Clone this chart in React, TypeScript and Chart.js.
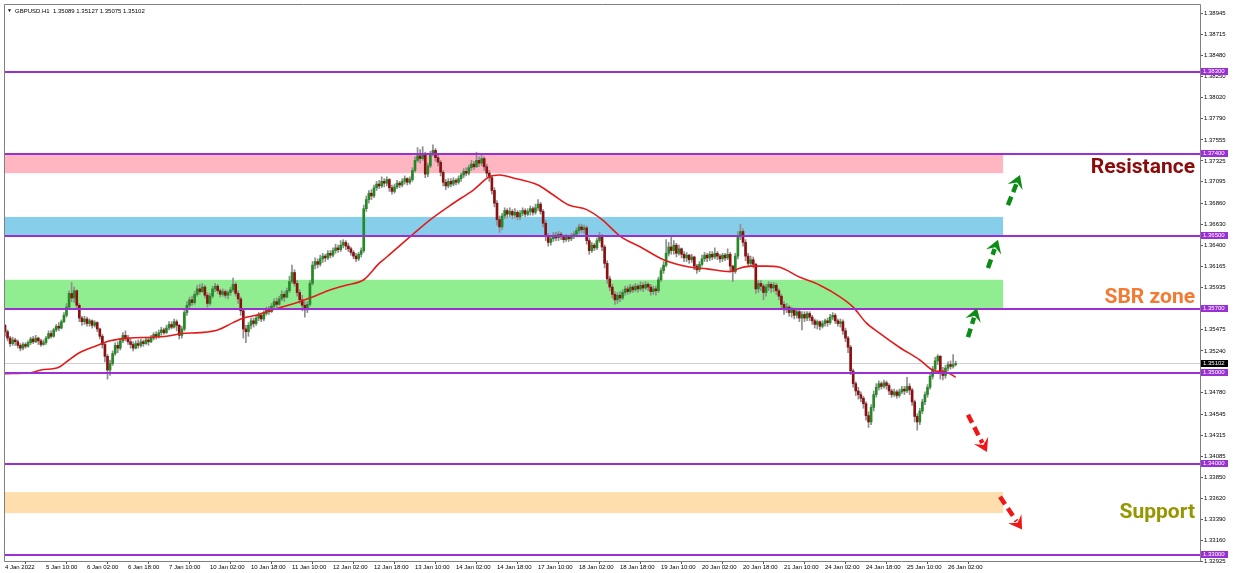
import React, { useEffect, useRef } from "react";
import { Chart, registerables } from "chart.js";

Chart.register(...registerables);

// ---------------- DATA ----------------
const chartTitle = "GBPUSD.H1  1.35089 1.35127 1.35075 1.35102";

const timeLabels = [
  "4 Jan 2022", "5 Jan 10:00", "6 Jan 02:00", "6 Jan 18:00", "7 Jan 10:00", "10 Jan 02:00",
  "10 Jan 18:00", "11 Jan 10:00", "12 Jan 02:00", "12 Jan 18:00", "13 Jan 10:00", "14 Jan 02:00",
  "14 Jan 18:00", "17 Jan 10:00", "18 Jan 02:00", "18 Jan 18:00", "19 Jan 10:00", "20 Jan 02:00",
  "20 Jan 18:00", "21 Jan 10:00", "24 Jan 02:00", "24 Jan 18:00", "25 Jan 10:00", "26 Jan 02:00",
];
const barsPerTimeLabel = 16;

const firstOpen = 1.3552;

const closes = [
  1.3545,1.3538,1.3532,1.3536,1.3534,1.3530,1.3527,1.3531,1.3529,1.3533,
  1.3537,1.3534,1.3538,1.3535,1.3531,1.3533,1.3538,1.3543,1.3540,1.3547,
  1.3551,1.3549,1.3556,1.3563,1.3572,1.3587,1.3582,1.3590,1.3574,1.3560,
  1.3556,1.3559,1.3554,1.3557,1.3552,1.3555,1.3548,1.3540,1.3531,1.3518,
  1.3503,1.3510,1.3521,1.3530,1.3527,1.3535,1.3541,1.3538,1.3534,1.3531,
  1.3527,1.3532,1.3530,1.3534,1.3532,1.3536,1.3534,1.3538,1.3542,1.3540,
  1.3544,1.3547,1.3544,1.3549,1.3553,1.3550,1.3556,1.3552,1.3541,1.3548,
  1.3566,1.3574,1.3580,1.3577,1.3586,1.3592,1.3589,1.3594,1.3585,1.3576,
  1.3584,1.3592,1.3595,1.3590,1.3586,1.3589,1.3585,1.3588,1.3591,1.3597,
  1.3587,1.3581,1.3568,1.3548,1.3545,1.3552,1.3557,1.3554,1.3560,1.3563,
  1.3559,1.3565,1.3570,1.3567,1.3573,1.3578,1.3575,1.3581,1.3586,1.3583,
  1.3590,1.3600,1.3610,1.3598,1.3588,1.3580,1.3574,1.3569,1.3575,1.3598,
  1.3618,1.3622,1.3619,1.3625,1.3628,1.3626,1.3631,1.3629,1.3634,1.3637,
  1.3635,1.3640,1.3643,1.3639,1.3636,1.3632,1.3628,1.3625,1.3630,1.3634,
  1.3680,1.3690,1.3697,1.3694,1.3703,1.3707,1.3705,1.3710,1.3708,1.3712,
  1.3703,1.3699,1.3704,1.3708,1.3706,1.3710,1.3713,1.3709,1.3712,1.3722,
  1.3733,1.3738,1.3735,1.3740,1.3718,1.3727,1.3740,1.3744,1.3736,1.3731,
  1.3720,1.3709,1.3705,1.3710,1.3707,1.3711,1.3709,1.3713,1.3717,1.3721,
  1.3719,1.3725,1.3729,1.3726,1.3733,1.3730,1.3735,1.3726,1.3719,1.3714,
  1.3700,1.3686,1.3668,1.3660,1.3672,1.3678,1.3674,1.3677,1.3673,1.3676,
  1.3671,1.3675,1.3678,1.3674,1.3677,1.3680,1.3676,1.3681,1.3685,1.3677,
  1.3664,1.3650,1.3643,1.3647,1.3651,1.3648,1.3652,1.3649,1.3646,1.3649,
  1.3647,1.3650,1.3652,1.3656,1.3660,1.3657,1.3659,1.3645,1.3634,1.3640,
  1.3637,1.3645,1.3650,1.3638,1.3620,1.3603,1.3594,1.3586,1.3580,1.3585,
  1.3582,1.3588,1.3592,1.3589,1.3594,1.3591,1.3595,1.3592,1.3596,1.3593,
  1.3597,1.3594,1.3589,1.3592,1.3590,1.3602,1.3612,1.3618,1.3631,1.3638,
  1.3634,1.3640,1.3631,1.3636,1.3630,1.3626,1.3629,1.3624,1.3627,1.3617,
  1.3613,1.3619,1.3625,1.3629,1.3626,1.3630,1.3627,1.3631,1.3628,1.3625,
  1.3629,1.3626,1.3630,1.3617,1.3611,1.3628,1.3650,1.3655,1.3643,1.3628,
  1.3620,1.3624,1.3619,1.3592,1.3598,1.3595,1.3588,1.3594,1.3597,1.3593,
  1.3596,1.3590,1.3584,1.3575,1.3569,1.3572,1.3566,1.3569,1.3563,1.3567,
  1.3560,1.3564,1.3560,1.3565,1.3561,1.3557,1.3553,1.3556,1.3551,1.3554,
  1.3557,1.3555,1.3561,1.3563,1.3557,1.3554,1.3556,1.3546,1.3538,1.3528,
  1.3502,1.3488,1.3480,1.3476,1.3472,1.3466,1.3453,1.3446,1.3462,1.3476,
  1.3484,1.3488,1.3485,1.3489,1.3486,1.3480,1.3476,1.3479,1.3475,1.3479,
  1.3482,1.3480,1.3485,1.3481,1.3468,1.3452,1.3446,1.3458,1.3468,1.3476,
  1.3484,1.3496,1.3504,1.3513,1.3518,1.3502,1.3497,1.3505,1.3509,1.3507,
  1.35089,1.35102,
];

const highs = [
  1.3553,1.3547,1.3540,1.3539,1.3538,1.3536,1.3532,1.3533,1.3533,1.3535,
  1.3539,1.3540,1.3541,1.3539,1.3537,1.3536,1.3540,1.3546,1.3546,1.3549,
  1.3553,1.3555,1.3558,1.3566,1.3576,1.3590,1.3599,1.3594,1.3591,1.3576,
  1.3562,1.3562,1.3561,1.3559,1.3558,1.3557,1.3556,1.3549,1.3542,1.3533,
  1.3520,1.3514,1.3524,1.3533,1.3534,1.3538,1.3544,1.3546,1.3541,1.3537,
  1.3534,1.3535,1.3536,1.3537,1.3536,1.3539,1.3538,1.3541,1.3544,1.3545,
  1.3547,1.3550,1.3549,1.3552,1.3556,1.3556,1.3559,1.3558,1.3553,1.3551,
  1.3569,1.3578,1.3583,1.3584,1.3589,1.3596,1.3597,1.3598,1.3596,1.3588,
  1.3587,1.3595,1.3598,1.3597,1.3592,1.3592,1.3591,1.3590,1.3594,1.3604,
  1.3599,1.3590,1.3583,1.3570,1.3552,1.3555,1.3560,1.3560,1.3563,1.3566,
  1.3565,1.3568,1.3572,1.3573,1.3576,1.3581,1.3582,1.3584,1.3590,1.3589,
  1.3593,1.3606,1.3618,1.3613,1.3601,1.3591,1.3585,1.3578,1.3578,1.3601,
  1.3622,1.3626,1.3625,1.3629,1.3631,1.3630,1.3634,1.3634,1.3637,1.3641,
  1.3640,1.3645,1.3646,1.3645,1.3642,1.3638,1.3634,1.3631,1.3632,1.3637,
  1.3684,1.3694,1.3700,1.3701,1.3706,1.3710,1.3711,1.3715,1.3713,1.3715,
  1.3713,1.3706,1.3707,1.3711,1.3710,1.3713,1.3716,1.3714,1.3715,1.3725,
  1.3737,1.3747,1.3745,1.3748,1.3742,1.3730,1.3743,1.3750,1.3746,1.3739,
  1.3733,1.3722,1.3712,1.3713,1.3713,1.3714,1.3713,1.3716,1.3719,1.3724,
  1.3725,1.3728,1.3733,1.3732,1.3742,1.3737,1.3739,1.3737,1.3729,1.3722,
  1.3716,1.3703,1.3689,1.3672,1.3675,1.3681,1.3680,1.3681,1.3679,1.3680,
  1.3678,1.3678,1.3681,1.3680,1.3680,1.3683,1.3682,1.3685,1.3690,1.3687,
  1.3679,1.3667,1.3653,1.3650,1.3654,1.3654,1.3655,1.3654,1.3651,1.3652,
  1.3651,1.3653,1.3655,1.3659,1.3663,1.3663,1.3662,1.3661,1.3648,1.3643,
  1.3642,1.3648,1.3654,1.3652,1.3640,1.3623,1.3606,1.3597,1.3589,1.3588,
  1.3589,1.3591,1.3595,1.3595,1.3597,1.3596,1.3598,1.3597,1.3600,1.3599,
  1.3600,1.3599,1.3597,1.3595,1.3595,1.3605,1.3615,1.3622,1.3646,1.3643,
  1.3649,1.3645,1.3642,1.3640,1.3637,1.3633,1.3632,1.3630,1.3630,1.3628,
  1.3619,1.3622,1.3629,1.3632,1.3631,1.3633,1.3633,1.3637,1.3633,1.3630,
  1.3631,1.3631,1.3636,1.3632,1.3618,1.3631,1.3655,1.3663,1.3658,1.3646,
  1.3631,1.3628,1.3627,1.3620,1.3601,1.3601,1.3597,1.3597,1.3600,1.3599,
  1.3599,1.3598,1.3592,1.3586,1.3578,1.3576,1.3574,1.3572,1.3571,1.3570,
  1.3569,1.3567,1.3567,1.3567,1.3567,1.3563,1.3559,1.3558,1.3557,1.3557,
  1.3559,1.3560,1.3564,1.3566,1.3565,1.3559,1.3559,1.3558,1.3549,1.3540,
  1.3530,1.3504,1.3490,1.3484,1.3479,1.3474,1.3468,1.3457,1.3465,1.3480,
  1.3488,1.3491,1.3490,1.3492,1.3491,1.3488,1.3482,1.3482,1.3481,1.3482,
  1.3485,1.3485,1.3495,1.3488,1.3483,1.3470,1.3455,1.3461,1.3471,1.3479,
  1.3487,1.3499,1.3507,1.3517,1.3520,1.3519,1.3506,1.3508,1.3512,1.3513,
  1.3520,1.35127,
];

const lows = [
  1.3540,1.3535,1.3529,1.3530,1.3530,1.3527,1.3524,1.3525,1.3527,1.3528,
  1.3531,1.3532,1.3533,1.3531,1.3529,1.3530,1.3531,1.3537,1.3538,1.3539,
  1.3545,1.3546,1.3548,1.3555,1.3561,1.3570,1.3578,1.3577,1.3571,1.3556,
  1.3552,1.3553,1.3551,1.3551,1.3549,1.3550,1.3545,1.3537,1.3527,1.3512,
  1.3493,1.3497,1.3508,1.3519,1.3522,1.3525,1.3533,1.3535,1.3531,1.3527,
  1.3524,1.3526,1.3527,1.3528,1.3529,1.3531,1.3530,1.3533,1.3536,1.3537,
  1.3538,1.3541,1.3542,1.3543,1.3547,1.3548,1.3549,1.3546,1.3537,1.3538,
  1.3546,1.3563,1.3571,1.3574,1.3575,1.3584,1.3586,1.3588,1.3582,1.3572,
  1.3574,1.3582,1.3589,1.3587,1.3583,1.3584,1.3582,1.3581,1.3585,1.3589,
  1.3584,1.3576,1.3563,1.3538,1.3533,1.3540,1.3548,1.3550,1.3552,1.3557,
  1.3556,1.3557,1.3563,1.3564,1.3566,1.3571,1.3572,1.3574,1.3579,1.3578,
  1.3582,1.3588,1.3598,1.3595,1.3584,1.3576,1.3568,1.3561,1.3566,1.3573,
  1.3596,1.3614,1.3615,1.3617,1.3621,1.3622,1.3624,1.3626,1.3627,1.3631,
  1.3632,1.3633,1.3637,1.3635,1.3633,1.3629,1.3625,1.3622,1.3623,1.3627,
  1.3632,1.3677,1.3686,1.3690,1.3692,1.3700,1.3702,1.3703,1.3704,1.3705,
  1.3699,1.3696,1.3697,1.3702,1.3703,1.3704,1.3707,1.3706,1.3707,1.3710,
  1.3720,1.3731,1.3730,1.3733,1.3714,1.3715,1.3725,1.3738,1.3732,1.3727,
  1.3716,1.3705,1.3701,1.3703,1.3704,1.3705,1.3706,1.3707,1.3710,1.3714,
  1.3716,1.3717,1.3722,1.3723,1.3725,1.3726,1.3727,1.3722,1.3715,1.3710,
  1.3696,1.3682,1.3662,1.3654,1.3657,1.3669,1.3670,1.3671,1.3669,1.3670,
  1.3668,1.3668,1.3672,1.3671,1.3672,1.3673,1.3673,1.3674,1.3678,1.3674,
  1.3660,1.3645,1.3639,1.3640,1.3644,1.3645,1.3645,1.3646,1.3643,1.3644,
  1.3644,1.3645,1.3647,1.3649,1.3653,1.3654,1.3653,1.3641,1.3630,1.3632,
  1.3634,1.3635,1.3643,1.3634,1.3615,1.3598,1.3590,1.3582,1.3575,1.3576,
  1.3578,1.3580,1.3585,1.3586,1.3587,1.3588,1.3589,1.3588,1.3590,1.3589,
  1.3591,1.3590,1.3585,1.3586,1.3585,1.3588,1.3600,1.3609,1.3616,1.3628,
  1.3630,1.3630,1.3627,1.3629,1.3626,1.3622,1.3622,1.3620,1.3621,1.3613,
  1.3609,1.3611,1.3617,1.3622,1.3622,1.3623,1.3624,1.3625,1.3624,1.3621,
  1.3622,1.3623,1.3624,1.3611,1.3600,1.3609,1.3625,1.3646,1.3639,1.3623,
  1.3616,1.3617,1.3615,1.3587,1.3588,1.3590,1.3580,1.3584,1.3590,1.3588,
  1.3589,1.3586,1.3580,1.3571,1.3564,1.3566,1.3562,1.3561,1.3559,1.3560,
  1.3556,1.3547,1.3556,1.3557,1.3557,1.3553,1.3549,1.3548,1.3547,1.3549,
  1.3551,1.3551,1.3553,1.3558,1.3554,1.3551,1.3550,1.3542,1.3534,1.3522,
  1.3498,1.3484,1.3475,1.3471,1.3468,1.3461,1.3448,1.3440,1.3443,1.3458,
  1.3473,1.3481,1.3482,1.3483,1.3482,1.3476,1.3473,1.3474,1.3472,1.3473,
  1.3477,1.3476,1.3478,1.3476,1.3464,1.3446,1.3437,1.3443,1.3455,1.3465,
  1.3473,1.3482,1.3493,1.3501,1.3509,1.3493,1.3492,1.3494,1.3502,1.3504,
  1.3505,1.35075,
];

// moving average (bar index, value)
const maBars = [
  0,10,14,21,24,29,36,41,48,57,63,69,76,83,89,93,98,102,108,115,
  120,127,133,140,146,149,158,166,175,183,189,193,198,208,214,220,227,233,240,248,
  257,267,274,283,287,291,297,302,310,318,326,331,336,341,349,357,362,368,371,
];
const maValues = [
  1.3499,1.3500,1.3503,1.3506,1.3512,1.3522,1.3530,1.3535,1.3538,1.3539,
  1.3540,1.3543,1.3544,1.3547,1.3555,1.3560,1.3563,1.3567,1.3572,1.3578,
  1.3583,1.3591,1.3596,1.3602,1.3620,1.3627,1.3649,1.3668,1.3686,1.3701,
  1.3715,1.3717,1.3714,1.3706,1.3695,1.3684,1.3679,1.3668,1.3650,1.3638,
  1.3624,1.3616,1.3614,1.3611,1.3615,1.3617,1.3617,1.3616,1.3605,1.3596,
  1.3583,1.3572,1.3555,1.3544,1.3528,1.3514,1.3503,1.3500,1.3495,
];

const priceTicks = [
  1.38945, 1.38715, 1.3848, 1.3825, 1.3802, 1.3779, 1.37555, 1.37325, 1.37095,
  1.3686, 1.3663, 1.364, 1.36165, 1.35935, 1.35705, 1.35475, 1.3524, 1.3501,
  1.3478, 1.34545, 1.34315, 1.34085, 1.3385, 1.3362, 1.3339, 1.3316, 1.32925,
];

const levelPrices = [1.383, 1.374, 1.365, 1.357, 1.35, 1.34, 1.33];
const bidPrice = 1.35102;

const zoneLows = [1.3719, 1.365, 1.357, 1.3346];
const zoneHighs = [1.374, 1.3671, 1.3602, 1.3369];
const zoneEndBar = 389.5;

const arrowFromBar = [375.8, 383.6, 391.4, 375.8, 388.3];
const arrowFromPrice = [1.3539, 1.3615, 1.3684, 1.3454, 1.3364];
const arrowToBar = [379.3, 387.5, 396.1, 383.2, 396.9];
const arrowToPrice = [1.3571, 1.3646, 1.3717, 1.3413, 1.3328];
const arrowUp = [true, true, true, false, false];

const noteTexts = ["Resistance", "SBR zone", "Support"];
const notePrices = [1.3719, 1.3577, 1.3341];

// ---------------- STYLES ----------------
const W = 1238;
const H = 573;
const FONT = '"Liberation Sans", Arial, sans-serif';
const BULL = "#248a24";
const BEAR = "#8c1010";
const WICK = "#8e8e8e";
const MA_COLOR = "#e51b1b";
const PURPLE = "#9a2fd4";
const ZONE_COLORS = ["#ffb6c1", "#87ceeb", "#90ee90", "#ffdead"];
const NOTE_COLORS = ["#8b0a0a", "#f47a32", "#969600"];
const ARROW_UP_COLOR = "#0c8c17";
const ARROW_DOWN_COLOR = "#f01616";
const FRAME = "#808080";

const Y_MIN = 1.3293416;
const Y_MAX = 1.3904617;
const X_MIN = -0.39;
const X_MAX = 466.34;

function drawArrow(ctx: CanvasRenderingContext2D, x1: number, y1: number, x2: number, y2: number, color: string) {
  const ang = Math.atan2(y2 - y1, x2 - x1);
  const dx = Math.cos(ang), dy = Math.sin(ang);
  const headLen = 13, headW = 8, notch = 5;
  const bx = x2 - headLen * dx, by = y2 - headLen * dy;
  ctx.save();
  ctx.strokeStyle = color;
  ctx.lineWidth = 4.5;
  ctx.lineCap = "butt";
  ctx.setLineDash([9, 5]);
  ctx.beginPath();
  ctx.moveTo(x1, y1);
  ctx.lineTo(bx + notch * dx * 0.6, by + notch * dy * 0.6);
  ctx.stroke();
  ctx.setLineDash([]);
  const px = -dy, py = dx;
  ctx.fillStyle = color;
  ctx.beginPath();
  ctx.moveTo(x2, y2);
  ctx.lineTo(bx + px * headW, by + py * headW);
  ctx.lineTo(bx + notch * dx, by + notch * dy);
  ctx.lineTo(bx - px * headW, by - py * headW);
  ctx.closePath();
  ctx.fill();
  ctx.restore();
}

const overlayPlugin = {
  id: "overlay",
  beforeDatasetsDraw(chart: any) {
    const { ctx, chartArea: a, scales } = chart;
    const x = scales.x, y = scales.y;
    ctx.save();
    ctx.beginPath();
    ctx.rect(a.left, a.top, a.right - a.left, a.bottom - a.top);
    ctx.clip();
    const xEnd = x.getPixelForValue(zoneEndBar);
    zoneLows.forEach((lo, k) => {
      const yTop = y.getPixelForValue(zoneHighs[k]);
      const yBot = y.getPixelForValue(lo);
      ctx.fillStyle = ZONE_COLORS[k];
      ctx.fillRect(a.left, yTop, xEnd - a.left, yBot - yTop);
    });
    const yb = Math.round(y.getPixelForValue(bidPrice)) + 0.5;
    ctx.strokeStyle = "#cfcfcf";
    ctx.lineWidth = 1;
    ctx.beginPath();
    ctx.moveTo(a.left, yb);
    ctx.lineTo(a.right, yb);
    ctx.stroke();
    ctx.restore();
  },
  afterDatasetsDraw(chart: any) {
    const { ctx, chartArea: a, scales } = chart;
    const x = scales.x, y = scales.y;
    ctx.save();
    ctx.beginPath();
    ctx.rect(a.left, a.top, a.right - a.left, a.bottom - a.top);
    ctx.clip();
    ctx.strokeStyle = PURPLE;
    ctx.lineWidth = 2;
    levelPrices.forEach((v) => {
      const yy = Math.round(y.getPixelForValue(v));
      ctx.beginPath();
      ctx.moveTo(a.left, yy);
      ctx.lineTo(a.right, yy);
      ctx.stroke();
    });
    arrowFromBar.forEach((b, k) => {
      drawArrow(
        ctx,
        x.getPixelForValue(b), y.getPixelForValue(arrowFromPrice[k]),
        x.getPixelForValue(arrowToBar[k]), y.getPixelForValue(arrowToPrice[k]),
        arrowUp[k] ? ARROW_UP_COLOR : ARROW_DOWN_COLOR
      );
    });
    ctx.font = 'bold 21px Roboto, "Liberation Sans", sans-serif';
    ctx.textAlign = "right";
    ctx.textBaseline = "alphabetic";
    noteTexts.forEach((t, k) => {
      ctx.fillStyle = NOTE_COLORS[k];
      ctx.fillText(t, a.right - 5, y.getPixelForValue(notePrices[k]));
    });
    ctx.restore();
  },
  afterDraw(chart: any) {
    const { ctx, chartArea: a, scales } = chart;
    const y = scales.y;
    ctx.save();
    // frame
    ctx.strokeStyle = FRAME;
    ctx.lineWidth = 1;
    ctx.beginPath();
    ctx.moveTo(a.left + 0.5, a.bottom + 0.5);
    ctx.lineTo(a.left + 0.5, a.top + 0.5);
    ctx.lineTo(a.right + 0.5, a.top + 0.5);
    ctx.lineTo(a.right + 0.5, a.bottom + 0.5);
    ctx.lineTo(a.left + 0.5, a.bottom + 0.5);
    ctx.stroke();
    // price label boxes
    ctx.font = `6px ${FONT}`;
    ctx.textAlign = "left";
    ctx.textBaseline = "middle";
    const boxX = a.right + 1;
    levelPrices.forEach((v) => {
      const yy = Math.round(y.getPixelForValue(v));
      ctx.fillStyle = PURPLE;
      ctx.fillRect(boxX, yy - 4, 27, 7);
      ctx.fillStyle = "#ffffff";
      ctx.fillText(v.toFixed(5), boxX + 2, yy - 0.5);
    });
    const yb = Math.round(y.getPixelForValue(bidPrice));
    ctx.fillStyle = "#000000";
    ctx.fillRect(boxX, yb - 3, 27, 7);
    ctx.fillStyle = "#ffffff";
    ctx.fillText(bidPrice.toFixed(5), boxX + 2, yb + 0.5);
    // title
    ctx.fillStyle = "#000000";
    ctx.font = `5px ${FONT}`;
    ctx.fillText("\u25BC", 7, 11);
    ctx.font = `6px ${FONT}`;
    ctx.fillText(chartTitle, 15, 11);
    ctx.restore();
  },
};

export default function App() {
  const ref = useRef<HTMLCanvasElement | null>(null);

  useEffect(() => {
    const canvas = ref.current;
    if (!canvas) return;
    Chart.defaults.font.family = FONT;

    const opens = closes.map((c, i) => (i === 0 ? firstOpen : closes[i - 1]));
    const wickData = closes.map((c, i) => ({
      x: i,
      y: [Math.min(lows[i], opens[i], c), Math.max(highs[i], opens[i], c)],
    }));
    const bodyData = closes.map((c, i) => ({ x: i, y: [opens[i], c] }));
    const bodyColors = closes.map((c, i) => (c >= opens[i] ? BULL : BEAR));
    const maData = maBars.map((b, k) => ({ x: b, y: maValues[k] }));

    const chart = new Chart(canvas, {
      type: "bar",
      data: {
        datasets: [
          {
            type: "line",
            data: maData,
            borderColor: MA_COLOR,
            borderWidth: 1.6,
            pointRadius: 0,
            cubicInterpolationMode: "monotone",
            order: 0,
          } as any,
          {
            type: "bar",
            data: bodyData,
            backgroundColor: bodyColors,
            barThickness: 2,
            grouped: false,
            minBarLength: 1,
            borderWidth: 0,
            order: 1,
          } as any,
          {
            type: "bar",
            data: wickData,
            backgroundColor: WICK,
            barThickness: 1,
            grouped: false,
            borderWidth: 0,
            order: 2,
          } as any,
        ],
      },
      options: {
        responsive: false,
        animation: false,
        events: [],
        layout: { padding: { left: 4, top: 4, right: 0, bottom: 0 } },
        plugins: {
          legend: { display: false },
          tooltip: { enabled: false },
          title: { display: false },
        },
        scales: {
          x: {
            type: "linear",
            min: X_MIN,
            max: X_MAX,
            offset: false,
            grid: { drawOnChartArea: false, drawTicks: true, tickLength: 3, color: "#555555" },
            border: { display: false },
            ticks: {
              autoSkip: false,
              maxRotation: 0,
              minRotation: 0,
              align: "start",
              padding: 0,
              color: "#000000",
              font: { size: 6, family: FONT },
              callback: (v: any) => timeLabels[Math.round(Number(v) / barsPerTimeLabel)] ?? "",
            },
            afterBuildTicks: (s: any) => {
              s.ticks = timeLabels.map((_, k) => ({ value: k * barsPerTimeLabel }));
            },
            afterFit: (s: any) => {
              s.height = H - 561;
              s.paddingLeft = 0;
              s.paddingRight = 0;
            },
          } as any,
          y: {
            type: "linear",
            position: "right",
            min: Y_MIN,
            max: Y_MAX,
            grid: { drawOnChartArea: false, drawTicks: true, tickLength: 3, color: "#555555" },
            border: { display: false },
            ticks: {
              autoSkip: false,
              padding: 1,
              color: "#000000",
              font: { size: 6, family: FONT },
              callback: (v: any) => Number(v).toFixed(5),
            },
            afterBuildTicks: (s: any) => {
              s.ticks = priceTicks.map((v) => ({ value: v }));
            },
            afterFit: (s: any) => {
              s.width = W - 1200;
              s.paddingTop = 0;
              s.paddingBottom = 0;
            },
          } as any,
        },
      },
      plugins: [overlayPlugin],
    });

    return () => chart.destroy();
  }, []);

  return (
    <div style={{ position: "fixed", left: 0, top: 0, width: W, height: H, background: "#ffffff" }}>
      <canvas ref={ref} width={W} height={H} style={{ display: "block", width: W, height: H }} />
    </div>
  );
}
